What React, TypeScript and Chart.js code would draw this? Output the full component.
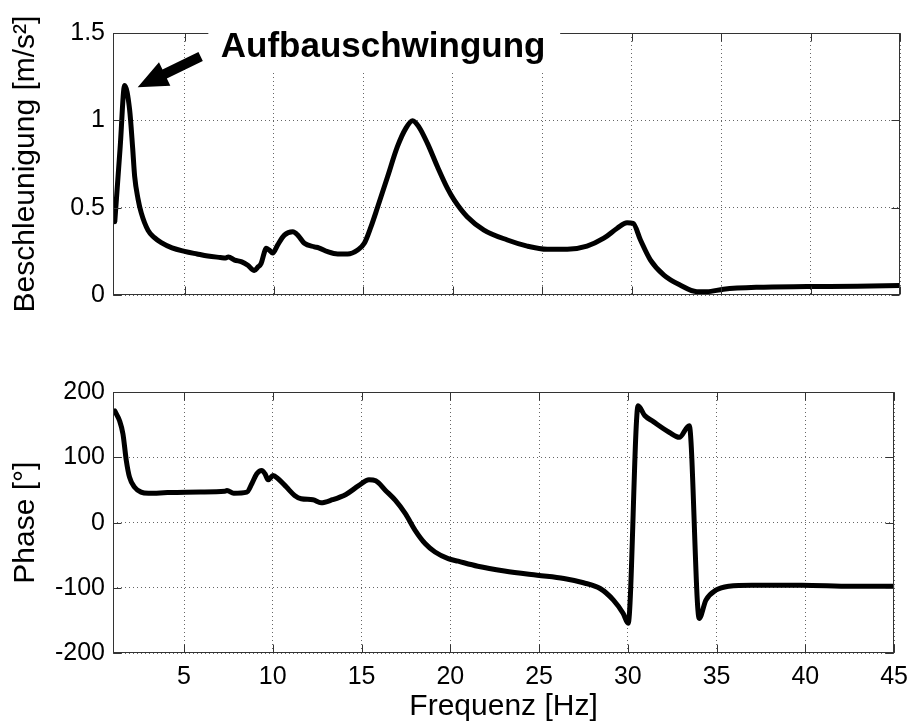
import React, { useEffect, useRef } from 'react';
import { Chart, registerables } from 'chart.js';

Chart.register(...registerables);

// ---------- data ----------
const magFreq = [1.1, 1.4, 1.65, 1.93, 2.1, 2.21, 2.4, 2.58, 2.96, 3.3, 3.7, 4.3, 5.0, 5.7, 6.3, 7.0, 7.3, 7.45, 7.8, 8.2, 8.54, 8.9, 9.1, 9.28, 9.45, 9.56, 9.74, 9.93, 10.2, 10.58, 11.05, 11.33, 11.7, 12.26, 12.5, 13.0, 13.56, 14.12, 14.68, 15.05, 15.42, 15.8, 16.35, 16.9, 17.37, 17.75, 18.1, 18.58, 19.14, 19.7, 20.07, 20.8, 21.74, 23.05, 24.16, 25.28, 26.4, 27.5, 28.44, 29.19, 29.74, 30.08, 30.49, 31.05, 31.8, 32.7, 33.65, 34.2, 35.13, 37.0, 39.8, 42.6, 45];
const magValues = [0.42, 0.845, 1.2, 1.06, 0.84, 0.68, 0.55, 0.47, 0.37, 0.33, 0.30, 0.27, 0.25, 0.235, 0.223, 0.215, 0.212, 0.218, 0.20, 0.19, 0.17, 0.14, 0.16, 0.18, 0.24, 0.267, 0.257, 0.24, 0.286, 0.343, 0.362, 0.343, 0.296, 0.276, 0.27, 0.248, 0.235, 0.235, 0.258, 0.296, 0.39, 0.505, 0.677, 0.849, 0.954, 0.998, 0.963, 0.868, 0.734, 0.61, 0.544, 0.448, 0.372, 0.315, 0.28, 0.262, 0.262, 0.28, 0.325, 0.382, 0.414, 0.41, 0.315, 0.20, 0.114, 0.057, 0.019, 0.019, 0.033, 0.044, 0.048, 0.05, 0.055];

const phaseFreq = [1.1, 1.37, 1.56, 1.75, 1.93, 2.21, 2.58, 3.0, 4.07, 5.93, 7.3, 7.42, 7.8, 8.54, 8.82, 9.1, 9.38, 9.56, 9.74, 10.02, 10.3, 10.77, 11.23, 11.6, 12.26, 12.72, 13.37, 14.12, 14.86, 15.42, 15.8, 16.35, 16.91, 17.47, 18.02, 18.58, 19.14, 19.88, 20.44, 21.55, 23.05, 24.9, 26.4, 27.5, 28.44, 29.19, 29.74, 30.02, 30.58, 30.95, 31.42, 32.35, 32.9, 33.46, 34.02, 34.4, 34.96, 35.7, 37.0, 39.8, 42.6, 45];
const phaseValues = [171, 156, 136, 95, 69.6, 54.4, 46.7, 45, 46, 47, 48, 49.3, 45, 46.7, 59.5, 74.8, 79.8, 74.8, 65.6, 72.2, 67.2, 54.4, 41.7, 36.6, 35.1, 30.5, 35.1, 43.2, 56.9, 65.6, 64, 49.3, 34, 13.7, -11.8, -32, -44.9, -55, -59, -66.7, -73.9, -80.5, -85.5, -92, -100.8, -118.6, -139, -154, 179, 164, 155, 138, 130.7, 148.5, -146.6, -118.6, -103.4, -97.3, -95.7, -95.7, -97.3, -97.3];

const xTickValues = [5, 10, 15, 20, 25, 30, 35, 40, 45];
const magTickValues = [0, 0.5, 1, 1.5];
const phaseTickValues = [-200, -100, 0, 100, 200];

const magAxisTitle = 'Beschleunigung [m/s²]';
const phaseAxisTitle = 'Phase [°]';
const freqAxisTitle = 'Frequenz [Hz]';

const annotationText = 'Aufbauschwingung';
// annotation anchor (data units of upper plot)
const annotationTextAt = { x: 16.1, y: 1.362 };
const annotationBox = { x0: 6.33, x1: 26.0, y0: 1.6, y1: 1.276 };
const arrowTail = { x: 5.9, y: 1.365 };
const arrowTip = { x: 2.38, y: 1.19 };

// ---------- layout ----------
const FONT = '"Liberation Sans", Arial, Helvetica, sans-serif';
const W = 917;
const TOP_H = 340;
const BOT_H = 384;
const AXIS_W = 113;
const RIGHT_PAD = 17;
const TOP_AREA_BOTTOM = 295;
const BOT_AREA_TOP = 52;
const BOT_AREA_BOTTOM = 313.3;

const frameColor = '#333';
const gridColor = 'rgba(0,0,0,0.6)';

const framePlugin = {
  id: 'frameTicks',
  afterDraw(chart: any) {
    const { ctx, chartArea: a, scales } = chart;
    const x = scales.x;
    const y = scales.y;
    ctx.save();
    ctx.strokeStyle = frameColor;
    ctx.lineWidth = 1;
    const L = Math.round(a.left) + 0.5;
    const R = Math.round(a.right) - 0.5;
    const T = Math.round(a.top) + 0.5;
    const B = Math.round(a.bottom) - 0.5;
    ctx.strokeRect(L, T, R - L, B - T);
    const len = 8;
    ctx.beginPath();
    for (const t of x.ticks) {
      const px = Math.round(x.getPixelForValue(t.value)) + 0.5;
      ctx.moveTo(px, B);
      ctx.lineTo(px, B - len);
      ctx.moveTo(px, T);
      ctx.lineTo(px, T + len);
    }
    for (const t of y.ticks) {
      const py = Math.round(y.getPixelForValue(t.value)) + 0.5;
      ctx.moveTo(L, py);
      ctx.lineTo(L + len, py);
      ctx.moveTo(R, py);
      ctx.lineTo(R - len, py);
    }
    ctx.stroke();
    ctx.restore();
  },
};

const annotationPlugin = {
  id: 'annotation',
  afterDraw(chart: any) {
    const { ctx, scales } = chart;
    const x = scales.x;
    const y = scales.y;
    ctx.save();
    // white box behind the label
    const bx0 = x.getPixelForValue(annotationBox.x0);
    const bx1 = x.getPixelForValue(annotationBox.x1);
    const by0 = y.getPixelForValue(annotationBox.y0);
    const by1 = y.getPixelForValue(annotationBox.y1);
    ctx.fillStyle = '#fff';
    ctx.fillRect(bx0, by0, bx1 - bx0, by1 - by0);
    // text
    ctx.fillStyle = '#000';
    ctx.font = `bold 35px ${FONT}`;
    ctx.textAlign = 'center';
    ctx.textBaseline = 'alphabetic';
    ctx.fillText(annotationText, x.getPixelForValue(annotationTextAt.x), y.getPixelForValue(annotationTextAt.y));
    // arrow
    const tx = x.getPixelForValue(arrowTail.x);
    const ty = y.getPixelForValue(arrowTail.y);
    const hx = x.getPixelForValue(arrowTip.x);
    const hy = y.getPixelForValue(arrowTip.y);
    const dx = hx - tx;
    const dy = hy - ty;
    const dl = Math.hypot(dx, dy);
    const ux = dx / dl;
    const uy = dy / dl;
    const nx = -uy;
    const ny = ux;
    const headLen = 30;
    const headHalf = 13;
    const shaftHalf = 5;
    const bxp = hx - ux * headLen;
    const byp = hy - uy * headLen;
    ctx.beginPath();
    ctx.moveTo(tx + nx * shaftHalf, ty + ny * shaftHalf);
    ctx.lineTo(bxp + nx * shaftHalf, byp + ny * shaftHalf);
    ctx.lineTo(bxp + nx * headHalf, byp + ny * headHalf);
    ctx.lineTo(hx, hy);
    ctx.lineTo(bxp - nx * headHalf, byp - ny * headHalf);
    ctx.lineTo(bxp - nx * shaftHalf, byp - ny * shaftHalf);
    ctx.lineTo(tx - nx * shaftHalf, ty - ny * shaftHalf);
    ctx.closePath();
    ctx.fill();
    ctx.restore();
  },
};

function makeDataset(xs: number[], ys: number[]) {
  return {
    data: xs.map((v, i) => ({ x: v, y: ys[i] })),
    borderColor: '#000',
    borderWidth: 5,
    pointRadius: 0,
    cubicInterpolationMode: 'monotone' as const,
    borderJoinStyle: 'round' as const,
    borderCapStyle: 'round' as const,
    fill: false,
  };
}

function gridOpts() {
  return { color: gridColor, lineWidth: 1, drawTicks: false };
}

function makeYScale(min: number, max: number, tickValues: number[], title: string) {
  return {
    type: 'linear' as const,
    min,
    max,
    afterBuildTicks: (s: any) => {
      s.ticks = tickValues.map((v) => ({ value: v }));
    },
    afterFit: (s: any) => {
      s.width = AXIS_W;
    },
    grid: gridOpts(),
    border: { display: false, dash: [1, 3] },
    ticks: {
      color: '#000',
      font: { family: FONT, size: 25 },
      padding: 8,
      callback: (v: any) => String(v),
    },
    title: {
      display: true,
      text: title,
      color: '#000',
      font: { family: FONT, size: 30, lineHeight: 1 },
      padding: { top: 11, bottom: 0 },
    },
  };
}

export default function App() {
  const topRef = useRef<HTMLCanvasElement | null>(null);
  const botRef = useRef<HTMLCanvasElement | null>(null);

  useEffect(() => {
    const top = new Chart(topRef.current as HTMLCanvasElement, {
      type: 'line',
      data: { datasets: [makeDataset(magFreq, magValues) as any] },
      options: {
        responsive: false,
        animation: false,
        devicePixelRatio: 1,
        layout: { padding: { top: 33, right: RIGHT_PAD, bottom: 0, left: 0 } },
        plugins: { legend: { display: false }, tooltip: { enabled: false }, title: { display: false } },
        scales: {
          x: {
            type: 'linear',
            min: 1,
            max: 45,
            afterBuildTicks: (s: any) => {
              s.ticks = xTickValues.map((v) => ({ value: v }));
            },
            afterFit: (s: any) => {
              s.height = TOP_H - TOP_AREA_BOTTOM;
            },
            grid: gridOpts(),
            border: { display: false, dash: [1, 3] },
            ticks: { display: false },
          },
          y: makeYScale(0, 1.5, magTickValues, magAxisTitle),
        },
      } as any,
      plugins: [framePlugin, annotationPlugin],
    });

    const bot = new Chart(botRef.current as HTMLCanvasElement, {
      type: 'line',
      data: { datasets: [makeDataset(phaseFreq, phaseValues) as any] },
      options: {
        responsive: false,
        animation: false,
        devicePixelRatio: 1,
        layout: { padding: { top: BOT_AREA_TOP, right: RIGHT_PAD, bottom: 0, left: 0 } },
        plugins: { legend: { display: false }, tooltip: { enabled: false }, title: { display: false } },
        scales: {
          x: {
            type: 'linear',
            min: 1,
            max: 45,
            afterBuildTicks: (s: any) => {
              s.ticks = xTickValues.map((v) => ({ value: v }));
            },
            afterFit: (s: any) => {
              s.height = BOT_H - BOT_AREA_BOTTOM;
            },
            grid: gridOpts(),
            border: { display: false, dash: [1, 3] },
            ticks: {
              color: '#000',
              font: { family: FONT, size: 25 },
              padding: 9,
              maxRotation: 0,
              autoSkip: false,
              callback: (v: any) => String(v),
            },
            title: {
              display: true,
              text: freqAxisTitle,
              color: '#000',
              font: { family: FONT, size: 30, lineHeight: 1 },
              padding: { top: 0, bottom: 2 },
            },
          },
          y: makeYScale(-200, 200, phaseTickValues, phaseAxisTitle),
        },
      } as any,
      plugins: [framePlugin],
    });

    return () => {
      top.destroy();
      bot.destroy();
    };
  }, []);

  return (
    <div style={{ position: 'absolute', left: 0, top: 0, width: W, height: TOP_H + BOT_H, background: '#fff' }}>
      <canvas ref={topRef} width={W} height={TOP_H} style={{ position: 'absolute', left: 0, top: 0 }} />
      <canvas ref={botRef} width={W} height={BOT_H} style={{ position: 'absolute', left: 0, top: TOP_H }} />
    </div>
  );
}
